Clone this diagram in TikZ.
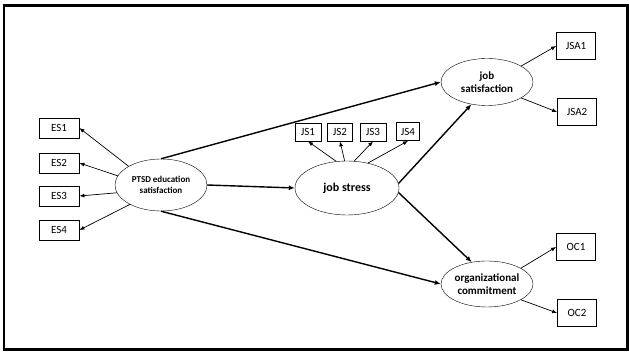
\documentclass[tikz,border=0pt]{standalone}
\usepackage{fontspec}
\setmainfont{Carlito}
\usetikzlibrary{arrows.meta,shapes.geometric}
\begin{document}
\begin{tikzpicture}[x=1pt,y=-1pt,
  ind/.style={draw,thick,minimum height=#1,inner sep=1pt,font=\fontsize{11}{12}\selectfont},
  ind/.default=20pt,
  lat/.style={draw,ellipse,inner sep=0pt,align=center,font=\bfseries\fontsize{11}{13}\selectfont},
  thin arr/.style={-{Latex[length=5pt,width=4pt]},line width=0.7pt},
  thick arr/.style={-{Latex[length=6pt,width=5pt]},line width=1.4pt}]
\useasboundingbox (0,0) rectangle (629,352);
\draw[line width=2.5pt] (4,5.5) rectangle (627.5,349.5);
% latent variables
\node[lat,minimum width=92pt,minimum height=52pt,font=\bfseries\fontsize{9}{11}\selectfont] (pe) at (161,185) {PTSD education\\satisfaction};
\node[lat,minimum width=104pt,minimum height=54pt,font=\bfseries\fontsize{12}{13}\selectfont] (js) at (347,188) {job stress};
\node[lat,minimum width=92pt,minimum height=47pt] (jsat) at (487,82) {job\\satisfaction};
\node[lat,minimum width=92pt,minimum height=46pt] (oc) at (487,284) {organizational\\commitment};
% indicators
\node[ind,minimum width=40pt] (es1) at (59,128) {ES1};
\node[ind,minimum width=40pt] (es2) at (59,163) {ES2};
\node[ind,minimum width=40pt] (es3) at (59,196) {ES3};
\node[ind,minimum width=40pt] (es4) at (59,230) {ES4};
\node[ind=18pt,minimum width=26pt] (js1) at (308,132) {JS1};
\node[ind=18pt,minimum width=25pt] (js2) at (340,132) {JS2};
\node[ind=18pt,minimum width=26pt] (js3) at (373,132) {JS3};
\node[ind=18pt,minimum width=23pt] (js4) at (408,131.5) {JS4};
\node[ind=27pt,minimum width=39pt] (jsa1) at (576,46) {JSA1};
\node[ind=27pt,minimum width=39pt] (jsa2) at (577,112) {JSA2};
\node[ind=27pt,minimum width=39pt] (oc1) at (576,247) {OC1};
\node[ind=27pt,minimum width=39pt] (oc2) at (577,313) {OC2};
% measurement arrows
\draw[thin arr] (pe.150) -- (es1.east);
\draw[thin arr] (pe.168) -- (es2.east);
\draw[thin arr] (pe.190) -- (es3.east);
\draw[thin arr] (pe.212) -- (es4.east);
\draw[thin arr] (js.112) -- (js1.south);
\draw[thin arr] (js.95) -- (js2.south);
\draw[thin arr] (js.75) -- (js3.south);
\draw[thin arr] (js.50) -- (js4.south);
\draw[thin arr] (jsat.25) -- (jsa1.west);
\draw[thin arr] (jsat.-25) -- (jsa2.west);
\draw[thin arr] (oc.25) -- (oc1.west);
\draw[thin arr] (oc.-25) -- (oc2.west);
% structural arrows
\draw[thick arr] (pe.east) -- (js.west);
\draw[thick arr] (pe.north) -- (jsat.west);
\draw[thick arr] (pe.south) -- (oc.west);
\draw[thick arr] (js.5) -- (jsat.235);
\draw[thick arr] (js.-5) -- (oc.125);
\end{tikzpicture}
\end{document}
